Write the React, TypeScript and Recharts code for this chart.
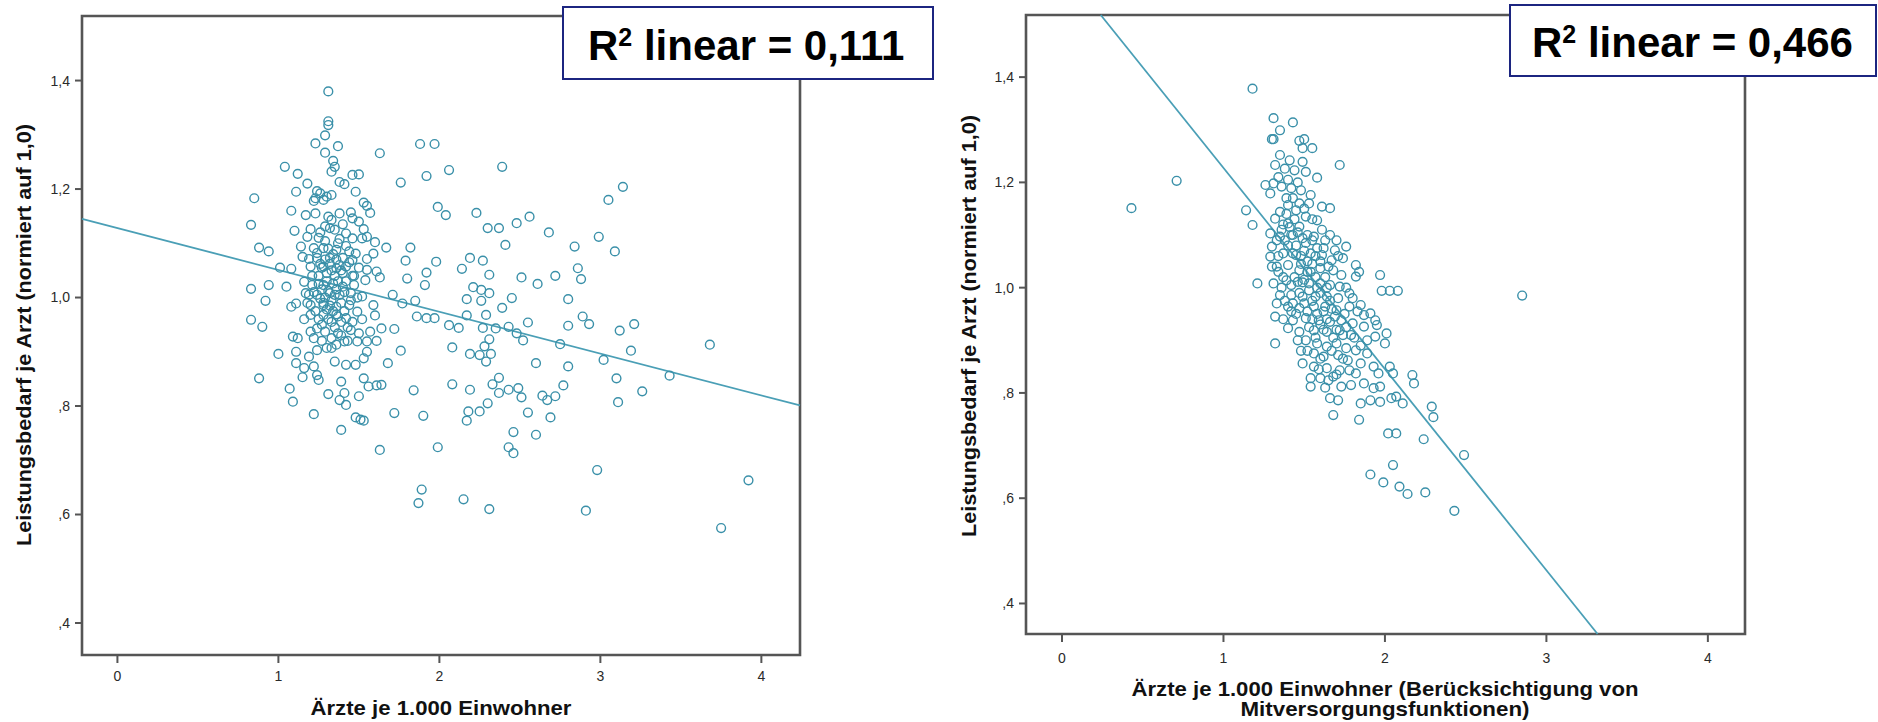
import React from "react";
import { ScatterChart, Scatter, XAxis, YAxis, ReferenceArea, ReferenceLine } from "recharts";

// ---------- axis ticks ----------
const xTicks = [0, 1, 2, 3, 4];
const xTickLabels = ["0", "1", "2", "3", "4"];
const yTicks = [0.4, 0.6, 0.8, 1.0, 1.2, 1.4];
const yTickLabels = [",4", ",6", ",8", "1,0", "1,2", "1,4"];

// ---------- left panel: Ärzte je 1.000 Einwohner ----------
const leftCluster: [number, number][] = [
  [1.31,1.380],[1.31,1.325],[1.31,1.318],[1.29,1.299],[1.23,1.284],[1.37,1.279],[1.29,1.267],[1.63,1.266],[1.88,1.283],[1.34,1.252],
  [1.35,1.241],[1.33,1.232],[1.04,1.241],[1.12,1.228],[1.46,1.226],[1.50,1.227],[1.38,1.213],[1.41,1.209],[1.76,1.212],[1.92,1.224],
  [1.18,1.210],[1.11,1.195],[1.24,1.196],[1.26,1.192],[1.23,1.183],[1.30,1.186],[1.33,1.189],[1.22,1.178],[1.28,1.180],[1.48,1.195],
  [0.85,1.183],[1.53,1.175],[1.55,1.169],[1.57,1.156],[1.08,1.160],[1.17,1.152],[1.23,1.155],[1.31,1.149],[1.33,1.143],[1.38,1.155],
  [1.45,1.157],[1.46,1.146],[0.83,1.134],[1.10,1.123],[1.20,1.126],[1.29,1.131],[1.32,1.128],[1.50,1.140],[1.53,1.126],[1.55,1.112],
  [1.52,1.109],[1.18,1.112],[1.25,1.110],[1.42,1.118],[1.46,1.109],[1.38,1.108],[1.60,1.102],[1.67,1.092],[1.82,1.092],[0.88,1.092],
  [0.94,1.085],[1.14,1.094],[1.22,1.091],[1.28,1.091],[1.36,1.088],[1.44,1.085],[1.48,1.081],[1.79,1.068],[1.15,1.075],[1.19,1.071],
  [1.24,1.073],[1.32,1.073],[1.40,1.073],[1.46,1.069],[1.55,1.071],[1.59,1.081],[1.01,1.055],[1.08,1.053],[1.20,1.057],[1.28,1.057],
  [1.36,1.054],[1.42,1.057],[1.55,1.051],[1.61,1.048],[1.92,1.046],[1.91,1.023],[1.80,1.035],[1.63,1.037],[1.54,1.032],[0.83,1.016],
  [0.94,1.023],[1.05,1.020],[1.16,1.029],[1.21,1.023],[1.28,1.023],[1.34,1.026],[1.40,1.020],[1.47,1.023],[1.17,1.008],[1.24,1.005],
  [1.32,1.008],[1.38,1.005],[1.45,1.008],[1.52,1.002],[0.92,0.994],[1.71,1.005],[1.77,0.989],[1.85,0.994],[1.11,0.989],[1.08,0.983],
  [1.20,0.986],[1.28,0.986],[1.36,0.983],[1.44,0.986],[1.49,0.974],[1.59,0.986],[0.83,0.959],[0.90,0.946],[1.20,0.968],[1.28,0.968],
  [1.36,0.969],[1.42,0.962],[1.60,0.967],[1.86,0.965],[1.92,0.962],[1.09,0.928],[1.12,0.925],[1.20,0.937],[1.24,0.943],[1.22,0.925],
  [1.29,0.937],[1.37,0.934],[1.45,0.940],[1.50,0.934],[1.57,0.937],[1.64,0.943],[1.72,0.942],[1.30,0.907],[1.36,0.913],[1.41,0.919],
  [1.49,0.919],[1.55,0.919],[1.61,0.920],[1.00,0.896],[1.11,0.900],[1.19,0.891],[1.24,0.903],[1.55,0.900],[1.53,0.888],[1.76,0.902],
  [1.68,0.879],[1.11,0.879],[1.16,0.870],[1.22,0.873],[1.35,0.882],[1.42,0.876],[1.48,0.876],[1.33,0.907],[0.88,0.851],[1.15,0.853],
  [1.25,0.848],[1.24,0.857],[1.39,0.845],[1.53,0.851],[1.07,0.832],[1.09,0.808],[1.31,0.822],[1.38,0.811],[1.41,0.824],[1.42,0.802],
  [1.50,0.818],[1.56,0.836],[1.61,0.838],[1.64,0.839],[1.84,0.829],[1.22,0.785],[1.48,0.779],[1.51,0.775],[1.53,0.773],[1.72,0.787],
  [1.90,0.782],[1.39,0.756],[1.63,0.719],[1.89,0.646],[1.87,0.621],
  [1.25,1.040],[1.30,1.045],[1.35,1.040],[1.40,1.045],[1.27,1.015],[1.31,1.012],[1.36,1.015],[1.42,1.030],[1.26,0.998],[1.33,0.995],
  [1.39,0.990],[1.30,0.978],[1.34,0.975],[1.41,0.975],[1.23,0.975],[1.29,1.000],[1.37,1.030],[1.32,1.062],[1.26,1.062],[1.38,1.060],
  [1.44,1.065],[1.34,1.080],[1.24,1.082],[1.29,1.104],[1.37,1.100],[1.33,0.955],[1.27,0.950],[1.39,0.955],[1.45,0.995],[1.47,1.040],
  [1.21,1.040],[1.19,1.005],[1.16,0.960],[1.46,0.955],[1.43,0.920],
  [1.27,1.055],[1.33,1.050],[1.39,1.050],[1.30,1.030],[1.25,1.025],[1.35,1.005],[1.41,1.010],[1.28,0.990],[1.32,0.985],[1.37,0.965],
  [1.31,0.960],[1.25,0.960],[1.43,0.945],[1.35,0.945],[1.29,1.070],[1.36,1.070],[1.42,1.095],[1.31,1.090],[1.26,1.120],[1.35,1.125],
  [1.40,1.135],[1.27,0.920],[1.33,0.925],[1.39,0.930],[1.46,1.040],[1.50,1.055],[1.49,1.000],[1.52,0.960],[1.18,0.990],[1.22,1.010],
];

const leftSpread: [number, number][] = [
  [1.97,1.283],[2.06,1.235],[2.39,1.241],[3.14,1.204],[3.05,1.180],[1.99,1.167],[2.04,1.152],[2.23,1.156],[2.30,1.128],[2.37,1.128],
  [2.48,1.137],[2.56,1.149],[2.68,1.120],[2.41,1.097],[2.84,1.094],[2.99,1.112],[3.09,1.085],[1.98,1.066],[2.19,1.073],[2.27,1.068],
  [2.14,1.053],[2.31,1.042],[2.51,1.037],[2.61,1.025],[2.72,1.040],[2.86,1.054],[2.88,1.034],[2.21,1.019],[2.26,1.014],[2.31,1.008],
  [2.17,0.997],[2.26,0.994],[2.45,0.999],[2.39,0.981],[2.80,0.997],[2.17,0.967],[2.29,0.968],[1.97,0.962],[2.06,0.949],[2.12,0.944],
  [2.27,0.944],[2.35,0.943],[2.43,0.946],[2.48,0.934],[2.52,0.921],[2.55,0.954],[2.75,0.914],[2.80,0.948],[2.89,0.965],[2.93,0.951],
  [3.12,0.939],[3.21,0.951],[2.08,0.908],[2.31,0.923],[2.28,0.910],[2.19,0.896],[2.25,0.894],[2.32,0.896],[2.29,0.882],[2.60,0.879],
  [2.80,0.873],[3.02,0.885],[3.19,0.902],[3.43,0.856],[3.68,0.913],[2.08,0.840],[2.19,0.830],[2.33,0.840],[2.37,0.852],[2.37,0.824],
  [2.43,0.830],[2.49,0.833],[2.51,0.816],[2.64,0.819],[2.67,0.811],[2.72,0.818],[2.77,0.838],[3.10,0.851],[3.26,0.827],[3.11,0.807],
  [2.18,0.790],[2.17,0.773],[2.25,0.790],[2.30,0.805],[2.55,0.788],[2.69,0.779],[2.46,0.752],[2.60,0.747],[1.99,0.724],[2.43,0.724],
  [2.46,0.713],[2.98,0.682],[3.92,0.663],[2.15,0.628],[2.31,0.610],[2.91,0.607],[3.75,0.575],
];

const leftFit: [number, number][] = [[-0.22, 1.145], [4.24, 0.801]];

// ---------- right panel: mit Mitversorgungsfunktionen ----------
const rightOuter: [number, number][] = [
  [1.18,1.378],[0.43,1.151],[0.71,1.203],[2.85,0.985],[1.31,1.322],[1.43,1.314],[1.35,1.299],[1.30,1.282],[1.31,1.282],[1.47,1.279],
  [1.50,1.282],[1.49,1.265],[1.55,1.265],[1.72,1.233],[1.14,1.147],[1.18,1.119],[1.21,1.008],[2.29,0.774],[2.30,0.754],[2.24,0.712],
  [2.49,0.682],[2.05,0.663],[1.91,0.645],[1.99,0.630],[2.09,0.622],[2.14,0.608],[2.25,0.611],[2.43,0.576],
];

const rightCluster: [number, number][] = [
  [1.35,1.252],[1.41,1.242],[1.49,1.239],[1.32,1.233],[1.38,1.226],[1.44,1.223],[1.51,1.220],[1.58,1.209],[1.26,1.195],[1.31,1.198],
  [1.36,1.192],[1.42,1.189],[1.48,1.185],[1.54,1.176],[1.29,1.179],[1.61,1.154],[1.66,1.151],[1.40,1.157],[1.45,1.147],[1.35,1.144],
  [1.51,1.135],[1.58,1.128],[1.32,1.131],[1.40,1.122],[1.47,1.116],[1.29,1.103],[1.35,1.097],[1.42,1.100],[1.49,1.094],[1.56,1.097],
  [1.63,1.090],[1.70,1.090],[1.76,1.078],[1.69,1.071],[1.30,1.078],[1.29,1.059],[1.37,1.065],[1.45,1.062],[1.54,1.065],[1.61,1.062],
  [1.67,1.052],[1.74,1.056],[1.82,1.043],[1.84,1.030],[1.82,1.021],[1.97,1.024],[1.98,0.994],[2.03,0.994],[2.08,0.994],[1.33,1.040],
  [1.40,1.043],[1.47,1.033],[1.54,1.030],[1.60,1.037],[1.68,1.033],[1.73,1.024],[1.31,1.008],[1.39,1.014],[1.46,1.011],[1.53,1.008],
  [1.60,1.008],[1.66,1.005],[1.72,1.002],[1.35,0.986],[1.42,0.986],[1.49,0.983],[1.57,0.983],[1.64,0.983],[1.71,0.980],[1.78,0.989],
  [1.33,0.970],[1.40,0.964],[1.47,0.961],[1.56,0.964],[1.63,0.964],[1.70,0.957],[1.78,0.964],[1.85,0.967],[1.87,0.948],[1.91,0.951],
  [1.94,0.938],[1.32,0.945],[1.43,0.938],[1.51,0.942],[1.59,0.938],[1.66,0.935],[1.73,0.938],[1.80,0.932],[1.87,0.926],[1.95,0.929],
  [2.01,0.913],[1.40,0.923],[1.47,0.916],[1.56,0.919],[1.64,0.916],[1.72,0.919],[1.79,0.910],[1.89,0.900],[1.94,0.907],[2.00,0.894],
  [1.32,0.894],[1.51,0.900],[1.58,0.894],[1.64,0.888],[1.70,0.894],[1.76,0.885],[1.82,0.881],[1.89,0.875],[1.56,0.875],[1.62,0.869],
  [1.71,0.872],[1.77,0.862],[1.49,0.856],[1.56,0.850],[1.64,0.847],[1.68,0.831],[1.72,0.843],[1.78,0.843],[1.82,0.837],[1.85,0.856],
  [1.93,0.850],[1.96,0.837],[2.03,0.850],[2.05,0.837],[2.17,0.834],[2.18,0.818],[1.54,0.828],[1.60,0.828],[1.65,0.824],[1.73,0.812],
  [1.79,0.815],[1.87,0.818],[1.93,0.809],[1.97,0.812],[1.54,0.812],[1.66,0.790],[1.71,0.786],[1.85,0.780],[1.91,0.786],[1.97,0.783],
  [2.04,0.790],[2.07,0.793],[2.11,0.780],[1.68,0.758],[1.84,0.749],[2.02,0.723],[2.07,0.723],
  [1.43,1.100],[1.45,1.080],[1.50,1.070],[1.52,1.050],[1.48,1.045],[1.55,1.045],[1.57,1.020],[1.50,1.015],[1.44,1.020],[1.53,0.995],
  [1.47,0.990],[1.60,0.990],[1.55,0.975],[1.50,0.970],[1.62,0.955],[1.58,0.950],[1.45,0.950],[1.38,1.090],[1.36,1.110],[1.44,1.130],
  [1.39,1.140],[1.47,1.160],[1.52,1.100],[1.58,1.075],[1.63,1.020],[1.66,0.975],[1.69,0.945],[1.75,0.950],[1.68,0.905],[1.62,0.920],
  [1.53,0.925],[1.57,0.905],
  [1.37,1.120],[1.41,1.115],[1.46,1.105],[1.40,1.080],[1.43,1.065],[1.48,1.060],[1.51,1.085],[1.55,1.090],[1.57,1.060],[1.60,1.050],
  [1.62,1.075],[1.65,1.040],[1.64,1.000],[1.58,1.000],[1.52,1.030],[1.49,1.010],[1.42,1.005],[1.37,1.020],[1.36,1.000],[1.38,0.975],
  [1.43,0.970],[1.52,0.955],[1.55,0.940],[1.60,0.930],[1.64,0.940],[1.67,0.960],[1.70,0.920],[1.74,0.910],[1.76,0.925],[1.67,0.880],
  [1.60,0.865],[1.52,0.880],[1.46,0.900],[1.42,0.955],[1.34,1.030],[1.34,1.060],[1.33,1.090],[1.39,1.170],[1.43,1.170],[1.50,1.150],
  [1.55,1.130],[1.53,1.160],[1.46,1.200],[1.40,1.205],[1.34,1.210],[1.61,1.110],[1.66,1.100],[1.71,1.060],[1.76,1.000],[1.80,0.980],
  [1.83,0.955],[1.81,0.905],[1.85,0.890],[1.74,0.865],[1.70,0.835],[1.63,0.810],[1.59,0.845],[1.48,0.880],[1.37,0.940],[1.30,1.040],
];

const rightFit: [number, number][] = [[0.24, 1.518], [3.317, 0.342]];

// ---------- styles ----------
const FONT = "'Liberation Sans', Arial, sans-serif";
const MARK = "#3a90a9";
const FITC = "#4a9fb6";
const FRAME = "#555555";

const toObj = (arr: [number, number][]) => arr.map(([x, y]) => ({ x, y }));

const Ring = (p: any) => (
  <circle cx={p.cx} cy={p.cy} r={4.4} fill="none" stroke={MARK} strokeWidth={1.4} />
);

type PanelProps = {
  points: [number, number][];
  fit: [number, number][];
  width: number;
  margin: { top: number; right: number; bottom: number; left: number };
  xDomain: [number, number];
  yDomain: [number, number];
  xTickMargin: number;
};

function Panel({ points, fit, width, margin, xDomain, yDomain, xTickMargin }: PanelProps) {
  const tickStyle = { fill: "#2a2a2a", fontSize: 14, fontFamily: FONT };
  return (
    <ScatterChart width={width} height={722} margin={margin}>
      <XAxis
        type="number"
        dataKey="x"
        domain={xDomain}
        allowDataOverflow
        ticks={xTicks}
        interval={0}
        tickFormatter={(_v: number, i: number) => xTickLabels[i]}
        axisLine={false}
        tickLine={{ stroke: FRAME, strokeWidth: 2 }}
        tickSize={8}
        tickMargin={xTickMargin}
        tick={tickStyle}
        height={30}
      />
      <YAxis
        type="number"
        dataKey="y"
        domain={yDomain}
        allowDataOverflow
        ticks={yTicks}
        interval={0}
        tickFormatter={(_v: number, i: number) => yTickLabels[i]}
        axisLine={false}
        tickLine={{ stroke: FRAME, strokeWidth: 2 }}
        tickSize={7}
        tickMargin={5}
        tick={tickStyle}
        width={60}
      />
      <ReferenceArea
        x1={xDomain[0]}
        x2={xDomain[1]}
        y1={yDomain[0]}
        y2={yDomain[1]}
        fill="none"
        stroke={FRAME}
        strokeWidth={2.6}
        ifOverflow="visible"
      />
      <ReferenceLine
        segment={[{ x: fit[0][0], y: fit[0][1] }, { x: fit[1][0], y: fit[1][1] }]}
        stroke={FITC}
        strokeWidth={1.8}
        ifOverflow="visible"
      />
      <Scatter data={toObj(points)} isAnimationActive={false} shape={Ring} />
    </ScatterChart>
  );
}

export default function App() {
  return (
    <div style={{ position: "absolute", left: 0, top: 0, width: 1878, height: 722, background: "#fff", overflow: "hidden" }}>
      <div style={{ position: "absolute", left: 0, top: 0 }}>
        <Panel
          points={[...leftCluster, ...leftSpread]}
          fit={leftFit}
          width={940}
          margin={{ top: 16, right: 140, bottom: 37, left: 22 }}
          xDomain={[-0.22, 4.24]}
          yDomain={[0.341, 1.519]}
          xTickMargin={8}
        />
      </div>
      <div style={{ position: "absolute", left: 940, top: 0 }}>
        <Panel
          points={[...rightOuter, ...rightCluster]}
          fit={rightFit}
          width={938}
          margin={{ top: 15, right: 133, bottom: 58, left: 26 }}
          xDomain={[-0.223, 4.23]}
          yDomain={[0.342, 1.518]}
          xTickMargin={11}
        />
      </div>
      <svg width={1878} height={722} style={{ position: "absolute", left: 0, top: 0 }}>
        <text
          transform="translate(24,335) rotate(-90)"
          textAnchor="middle"
          dominantBaseline="central"
          fontFamily={FONT}
          fontWeight={700}
          fontSize={20}
          fill="#111"
          textLength={422}
          lengthAdjust="spacingAndGlyphs"
        >
          Leistungsbedarf je Arzt (normiert auf 1,0)
        </text>
        <text
          transform="translate(969,326) rotate(-90)"
          textAnchor="middle"
          dominantBaseline="central"
          fontFamily={FONT}
          fontWeight={700}
          fontSize={20}
          fill="#111"
          textLength={422}
          lengthAdjust="spacingAndGlyphs"
        >
          Leistungsbedarf je Arzt (normiert auf 1,0)
        </text>
        <text x={441} y={715} textAnchor="middle" fontFamily={FONT} fontWeight={700} fontSize={21} fill="#111" textLength={261} lengthAdjust="spacingAndGlyphs">
          Ärzte je 1.000 Einwohner
        </text>
        <text x={1385} y={696} textAnchor="middle" fontFamily={FONT} fontWeight={700} fontSize={21} fill="#111" textLength={507} lengthAdjust="spacingAndGlyphs">
          Ärzte je 1.000 Einwohner (Berücksichtigung von
        </text>
        <text x={1385} y={716} textAnchor="middle" fontFamily={FONT} fontWeight={700} fontSize={21} fill="#111" textLength={289} lengthAdjust="spacingAndGlyphs">
          Mitversorgungsfunktionen)
        </text>

        <rect x={563} y={7} width={370} height={72} fill="#fff" stroke="#1c2580" strokeWidth={2} />
        <text x={588} y={60} fontFamily={FONT} fontWeight={700} fontSize={42} fill="#000">
          R<tspan dy={-14} fontSize={25}>2</tspan>
          <tspan dy={14}> linear = 0,111</tspan>
        </text>

        <rect x={1510} y={5} width={366} height={71} fill="#fff" stroke="#1c2580" strokeWidth={2} />
        <text x={1532} y={57} fontFamily={FONT} fontWeight={700} fontSize={42} fill="#000">
          R<tspan dy={-14} fontSize={25}>2</tspan>
          <tspan dy={14}> linear = 0,466</tspan>
        </text>
      </svg>
    </div>
  );
}
